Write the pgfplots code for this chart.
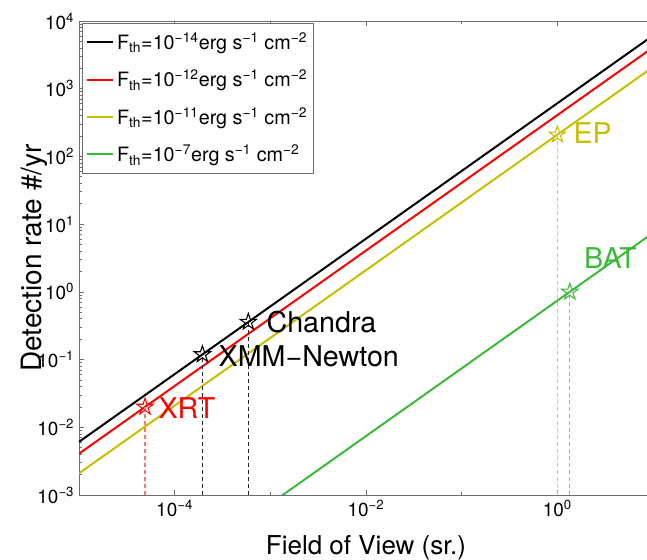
\documentclass[border=0pt]{standalone}
\usepackage{fontspec}
\setmainfont{TeX Gyre Heros}
\usepackage{pgfplots}
\pgfplotsset{compat=1.18}
\definecolor{ycol}{RGB}{196,192,0}
\definecolor{gcol}{RGB}{60,185,60}
\definecolor{axcol}{RGB}{110,110,110}
\pgfdeclareplotmark{pentagram}{%
  \pgfpathmoveto{\pgfpointpolar{90}{\pgfplotmarksize}}%
  \pgfpathlineto{\pgfpointpolar{126}{0.382\pgfplotmarksize}}%
  \pgfpathlineto{\pgfpointpolar{162}{\pgfplotmarksize}}%
  \pgfpathlineto{\pgfpointpolar{198}{0.382\pgfplotmarksize}}%
  \pgfpathlineto{\pgfpointpolar{234}{\pgfplotmarksize}}%
  \pgfpathlineto{\pgfpointpolar{270}{0.382\pgfplotmarksize}}%
  \pgfpathlineto{\pgfpointpolar{306}{\pgfplotmarksize}}%
  \pgfpathlineto{\pgfpointpolar{342}{0.382\pgfplotmarksize}}%
  \pgfpathlineto{\pgfpointpolar{18}{\pgfplotmarksize}}%
  \pgfpathlineto{\pgfpointpolar{54}{0.382\pgfplotmarksize}}%
  \pgfpathclose
  \pgfusepathqstroke
}
\newcommand{\tl}[1]{10\textsuperscript{#1}}
\newcommand{\leg}[1]{F\textsubscript{th}=10\textsuperscript{#1}erg s\textsuperscript{−1} cm\textsuperscript{−2}}

\begin{document}
\begin{tikzpicture}
\useasboundingbox (-59.25pt,-48.75pt) rectangle (426pt,371.25pt);
\begin{axis}[
  at={(0pt,0pt)}, anchor=south west,
  scale only axis, width=430.5pt, height=355.5pt,
  xmode=log, ymode=log,
  xmin=1e-5, xmax=10, ymin=1e-3, ymax=1e4,
  xtick={1e-4,1e-2,1}, xticklabels={\tl{−4},\tl{−2},\tl{0}},
  minor xtick={1e-5,1e-3,1e-1,10},
  ytick={1e-3,1e-2,1e-1,1,10,100,1000,10000},
  yticklabels={\tl{−3},\tl{−2},\tl{−1},\tl{0},\tl{1},\tl{2},\tl{3},\tl{4}},
  minor ytick={2e-3,3e-3,4e-3,5e-3,6e-3,7e-3,8e-3,9e-3,
    2e-2,3e-2,4e-2,5e-2,6e-2,7e-2,8e-2,9e-2,
    0.2,0.3,0.4,0.5,0.6,0.7,0.8,0.9,
    2,3,4,5,6,7,8,9,
    20,30,40,50,60,70,80,90,
    200,300,400,500,600,700,800,900,
    2000,3000,4000,5000,6000,7000,8000,9000},
  axis line style={axcol, line width=0.6pt},
  tick style={axcol, line width=0.5pt},
  major tick length=4pt, minor tick length=2.5pt,
  tick label style={font=\fontsize{14.2}{17}\selectfont},
  xlabel={Field of View (sr.)},
  ylabel={Detection rate \#/yr},
  xlabel style={font=\fontsize{19.5}{22}\selectfont, at={(axis description cs:0.5,-0.1118)}, anchor=center},
  ylabel style={font=\fontsize{21}{24}\selectfont, at={(axis description cs:-0.0775,0.5)}, anchor=center},
  legend style={at={(0,1)}, anchor=north west, xshift=2.25pt, yshift=-1.5pt,
    draw=axcol, line width=0.6pt, font=\fontsize{14.8}{17}\selectfont,
    row sep=10pt, inner xsep=3pt, inner ysep=5pt, cells={anchor=west}},
  legend image code/.code={\draw[#1] (0pt,0pt) -- (19.5pt,0pt);},
]
\addplot[black, line width=1.5pt] coordinates {(1e-5,6.095e-3) (10,6095)};
\addlegendentry{\leg{−14}}
\addplot[red, line width=1.5pt] coordinates {(1e-5,4.074e-3) (10,4074)};
\addlegendentry{\leg{−12}}
\addplot[ycol, line width=1.5pt] coordinates {(1e-5,2.089e-3) (10,2089)};
\addlegendentry{\leg{−11}}
\addplot[gcol, line width=1.5pt] coordinates {(1e-3,7.413e-4) (10,7.413)};
\addlegendentry{\leg{−7}}
% drop lines
\addplot[red!55, dash pattern=on 3pt off 2.25pt, line width=0.8pt, forget plot] coordinates {(4.9e-5,1e-3) (4.9e-5,0.020)};
\addplot[black!85, dash pattern=on 3pt off 2.25pt, line width=0.75pt, forget plot] coordinates {(1.95e-4,1e-3) (1.95e-4,0.119)};
\addplot[black!85, dash pattern=on 3pt off 2.25pt, line width=0.75pt, forget plot] coordinates {(5.89e-4,1e-3) (5.89e-4,0.359)};
\addplot[ycol!70, dash pattern=on 3pt off 2.25pt, line width=0.8pt, forget plot] coordinates {(1.0,1e-3) (1.0,209)};
\addplot[gcol!70, dash pattern=on 3pt off 2.25pt, line width=0.8pt, forget plot] coordinates {(1.35,1e-3) (1.35,1.0)};
% stars
\addplot[red, only marks, mark=pentagram, mark size=6.5pt, line width=0.8pt, forget plot] coordinates {(4.9e-5,0.020)};
\addplot[black, only marks, mark=pentagram, mark size=6.5pt, line width=0.8pt, forget plot] coordinates {(1.95e-4,0.119) (5.89e-4,0.359)};
\addplot[ycol, only marks, mark=pentagram, mark size=6.5pt, line width=0.8pt, forget plot] coordinates {(1.0,209)};
\addplot[gcol, only marks, mark=pentagram, mark size=6.5pt, line width=0.8pt, forget plot] coordinates {(1.35,1.0)};
% labels
\node[anchor=base west, inner sep=0pt, font=\fontsize{21.5}{24}\selectfont, xshift=13.5pt, yshift=-8pt] at (axis cs:5.89e-4,0.359) {Chandra};
\node[anchor=base west, inner sep=0pt, font=\fontsize{21.5}{24}\selectfont, xshift=12pt, yshift=-8.8pt] at (axis cs:1.95e-4,0.119) {XMM−Newton};
\node[anchor=base west, inner sep=0pt, text=red, font=\fontsize{21.5}{24}\selectfont, xshift=10pt, yshift=-8.75pt] at (axis cs:4.9e-5,0.020) {XRT};
\node[anchor=base west, inner sep=0pt, text=ycol, font=\fontsize{21.5}{24}\selectfont, xshift=12pt, yshift=-6.25pt] at (axis cs:1.0,209) {EP};
\node[anchor=base west, inner sep=0pt, text=gcol, font=\fontsize{21.5}{24}\selectfont, xshift=10.5pt, yshift=17.5pt] at (axis cs:1.35,1.0) {BAT};
\end{axis}
\end{tikzpicture}
\end{document}
